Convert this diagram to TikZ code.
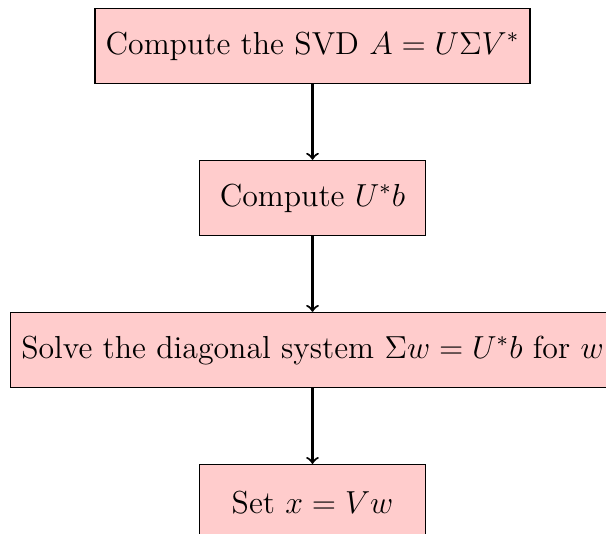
\documentclass[tikz,border=0pt,12pt]{standalone}
\usetikzlibrary{positioning}
\tikzset{
  procbox/.style={draw, fill=red!20, rectangle, minimum width=3cm, minimum height=1cm, align=center},
  flow/.style={draw, thick, ->}
}
\begin{document}
\begin{tikzpicture}[node distance=1cm]
\clip (-4.139,0.609) rectangle (3.887,-6.451);
\node[procbox] (svd) at (0,0) {Compute the SVD $A = U\Sigma V^*$};
\node[procbox, below=of svd] (ub) {Compute $U^*b$};
\node[procbox, below=of ub] (solve) {Solve the diagonal system $\Sigma w = U^*b$ for $w$};
\node[procbox, below=of solve] (setx) {Set $x = Vw$};
\draw[flow] (svd) -- (ub);
\draw[flow] (ub) -- (solve);
\draw[flow] (solve) -- (setx);
\end{tikzpicture}
\end{document}
